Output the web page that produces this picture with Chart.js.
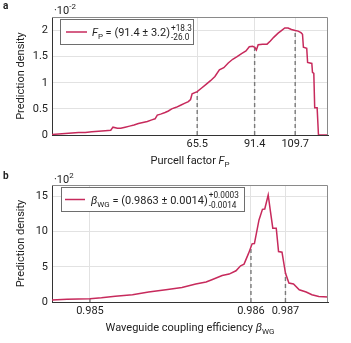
<!DOCTYPE html>
<html>
<head>
<meta charset="utf-8">
<script src="https://cdn.jsdelivr.net/npm/chart.js@4.4.0/dist/chart.umd.min.js"></script>
<style>
  html, body { margin: 0; padding: 0; background: #fff; }
  #wrap { position: relative; width: 351px; height: 343px; }
  canvas { position: absolute; left: 0; }
  #chartA { top: 0; }
  #chartB { top: 170px; }
</style>
</head>
<body>
<div id="wrap">
  <canvas id="chartA" width="351" height="170"></canvas>
  <canvas id="chartB" width="351" height="173"></canvas>
</div>
<script>
// panel a: Purcell factor (density in units of 1e-2)
const purcellX = [0, 3, 6, 9, 12, 15, 18, 21, 24, 26.5, 27.5, 29.5, 31, 33, 35, 37, 39, 41, 43, 45,
  46.5, 47.5, 49, 51, 52.5, 54, 56, 58, 60, 61.5, 62.5, 63.2, 65.5, 67.5, 69.5, 71.5, 73.5, 75.5, 77.5, 79.5,
  81.5, 83.5, 85.5, 87.5, 89, 90.5, 91.5, 92.2, 93, 95, 97, 98.5, 100, 102, 103.5, 105, 106.5, 108, 109.7, 111,
  112.3, 113, 113.4, 114.9, 115.3, 117.2, 117.5, 118.1, 118.5, 119.6, 120.2, 122, 124.5];
const purcellDensity = [0.01, 0.02, 0.03, 0.04, 0.05, 0.05, 0.06, 0.07, 0.08, 0.09, 0.15, 0.13, 0.13, 0.15, 0.17, 0.19, 0.22, 0.24, 0.26, 0.29,
  0.31, 0.38, 0.40, 0.43, 0.46, 0.50, 0.53, 0.57, 0.61, 0.64, 0.68, 0.79, 0.83, 0.90, 0.97, 1.04, 1.12, 1.25, 1.29, 1.38,
  1.45, 1.50, 1.56, 1.61, 1.69, 1.70, 1.68, 1.63, 1.73, 1.74, 1.74, 1.80, 1.87, 1.95, 2.00, 2.05, 2.05, 2.02, 2.00, 1.99,
  1.96, 1.93, 1.68, 1.66, 1.39, 1.37, 1.20, 1.18, 0.52, 0.52, 0, 0, 0];
const purcellTicks = [65.5, 91.4, 109.7];
const purcellTickLabels = ['65.5', '91.4', '109.7'];
const purcellQuantileDensity = [0.83, 1.67, 2.0];
const densityTicksA = [0, 0.5, 1, 1.5, 2];

// panel b: waveguide coupling efficiency (density in units of 1e2)
const betaX = [0.98457, 0.98470, 0.98490, 0.98500, 0.98512, 0.98527, 0.98541, 0.98556, 0.98570, 0.98582,
  0.98591, 0.98596, 0.98605, 0.98611, 0.98617, 0.98621, 0.98624, 0.98628, 0.98631, 0.98633,
  0.98637, 0.98640, 0.98642, 0.98645, 0.98647, 0.98649, 0.98652, 0.98654, 0.98657, 0.98660,
  0.98663, 0.98667, 0.98672, 0.98678, 0.98683, 0.98689, 0.98697];
const betaDensity = [0.3, 0.4, 0.47, 0.6, 0.8, 1.03, 1.41, 1.74, 2.07, 2.55,
  2.83, 3.15, 3.76, 3.96, 4.43, 5.13, 5.37, 6.93, 8.25, 8.29,
  11.64, 13.15, 13.2, 15.18, 12.8, 10.47, 10.47, 7.16, 7.07, 4.1,
  2.69, 2.55, 1.74, 1.41, 1.03, 0.79, 0.71];
const betaTicks = [0.9849, 0.9863, 0.9866];
const betaTickLabels = ['0.985', '0.986', '0.987'];
const betaQuantileDensity = [0.47, 7.9, 4.1];
const densityTicksB = [0, 5, 10, 15];

const curveColor = '#c72a5c';
const textColor = '#222';
const FONT = 'Roboto';

Chart.defaults.font.family = FONT;
Chart.defaults.font.size = 11;
Chart.defaults.color = textColor;

function drawRuns(ctx, x, y, runs, size, draw = true) {
  ctx.textAlign = 'left';
  ctx.textBaseline = 'alphabetic';
  let cx = x;
  runs.forEach(r => {
    if (r.stack) {
      ctx.font = `${size * 0.75}px ${FONT}`;
      if (draw) {
        ctx.fillText(r.stack[0], cx + 1, y - size * 0.5);
        ctx.fillText(r.stack[1], cx + 1, y + size * 0.38);
      }
      cx += 1 + Math.max(ctx.measureText(r.stack[0]).width, ctx.measureText(r.stack[1]).width);
      return;
    }
    const fs = (r.sub || r.sup) ? size * 0.72 : size;
    ctx.font = `${r.it ? 'italic ' : ''}${fs}px ${FONT}`;
    const dy = r.sub ? size * 0.3 : r.sup ? -size * 0.42 : 0;
    if (draw) ctx.fillText(r.t, cx, y + dy);
    cx += ctx.measureText(r.t).width;
  });
  return cx - x;
}

const decorations = {
  id: 'decorations',
  afterDraw(chart, args, o) {
    const { ctx, chartArea: a } = chart;
    ctx.save();
    // light frame on top and right
    ctx.strokeStyle = '#8a8a8a';
    ctx.lineWidth = 1;
    ctx.beginPath();
    ctx.moveTo(a.left, a.top + 0.5);
    ctx.lineTo(a.right - 0.5, a.top + 0.5);
    ctx.lineTo(a.right - 0.5, a.bottom);
    ctx.stroke();

    // legend
    const L = o.legend;
    ctx.fillStyle = '#fff';
    ctx.fillRect(L.x, L.y, L.w, L.h);
    ctx.strokeStyle = '#6e6e6e';
    ctx.strokeRect(L.x + 0.5, L.y + 0.5, L.w - 1, L.h - 1);
    ctx.strokeStyle = curveColor;
    ctx.lineWidth = 1.5;
    ctx.beginPath();
    ctx.moveTo(L.lineFrom, L.y + L.h / 2);
    ctx.lineTo(L.lineTo, L.y + L.h / 2);
    ctx.stroke();
    ctx.fillStyle = textColor;
    drawRuns(ctx, L.textX, L.y + L.h / 2 + 4, o.legendRuns, 11);

    // panel letter
    ctx.font = `bold 10px ${FONT}`;
    ctx.textAlign = 'left';
    ctx.textBaseline = 'alphabetic';
    ctx.fillText(o.letter, 3, o.letterY);

    // exponent
    drawRuns(ctx, 54, o.expY, o.expRuns, 11);

    // x title
    const w = drawRuns(ctx, 0, 0, o.titleRuns, 11, false);
    drawRuns(ctx, (a.left + a.right) / 2 - w / 2, o.titleY, o.titleRuns, 11);
    ctx.restore();
  }
};

function quantileSets(xs, hs) {
  return xs.map((q, i) => ({
    data: [{ x: q, y: 0 }, { x: q, y: hs[i] }],
    borderColor: '#7a7a7a',
    borderWidth: 1.4,
    borderDash: [4, 3],
    pointRadius: 0,
    order: 2
  }));
}

function makeChart(id, p) {
  const points = p.xs.map((x, i) => ({ x, y: p.ys[i] }));
  return new Chart(document.getElementById(id), {
    type: 'line',
    data: {
      datasets: [{
        data: points,
        borderColor: curveColor,
        borderWidth: 1.5,
        pointRadius: 0,
        tension: 0,
        order: 1
      }, ...quantileSets(p.qTicks, p.qHeights)]
    },
    options: {
      responsive: false,
      animation: false,
      events: [],
      layout: { padding: { left: 0, right: 23, top: p.top, bottom: 0 } },
      plugins: {
        legend: { display: false },
        tooltip: { enabled: false },
        decorations: p.deco
      },
      scales: {
        x: {
          type: 'linear',
          min: p.xMin,
          max: p.xMax,
          afterFit: s => { s.height = p.xHeight; },
          afterBuildTicks: s => { s.ticks = p.qTicks.map(v => ({ value: v })); },
          ticks: {
            autoSkip: false,
            maxRotation: 0,
            padding: 3,
            callback: (v, i) => p.qLabels[i]
          },
          grid: { color: '#e2e2e2', drawTicks: false },
          border: { color: '#333', width: 1 }
        },
        y: {
          min: 0,
          max: p.yMax,
          afterFit: s => { s.width = 52; },
          afterBuildTicks: s => { s.ticks = p.yTicks.map(v => ({ value: v })); },
          ticks: { padding: 4, callback: v => String(v) },
          grid: { color: '#e2e2e2', drawTicks: false },
          border: { color: '#333', width: 1 },
          title: {
            display: true,
            text: 'Prediction density',
            padding: { top: 15, bottom: 0 },
            font: { size: 11 }
          }
        }
      }
    },
    plugins: [decorations]
  });
}

makeChart('chartA', {
  xs: purcellX, ys: purcellDensity,
  qTicks: purcellTicks, qLabels: purcellTickLabels, qHeights: purcellQuantileDensity,
  yTicks: densityTicksA, xMin: 0, xMax: 124.5, yMax: 2.26,
  top: 17, xHeight: 35,
  deco: {
    legend: { x: 60, y: 19, w: 134, h: 26, lineFrom: 66, lineTo: 87, textX: 92 },
    legendRuns: [{ t: 'F', it: true }, { t: 'P', sub: true }, { t: ' = (91.4 ± 3.2)' }, { stack: ['+18.3', '-26.0'] }],
    letter: 'a', letterY: 9,
    expY: 14, expRuns: [{ t: '·10' }, { t: '-2', sup: true }],
    titleY: 164, titleRuns: [{ t: 'Purcell factor ' }, { t: 'F', it: true }, { t: 'P', sub: true }]
  }
});

makeChart('chartB', {
  xs: betaX, ys: betaDensity,
  qTicks: betaTicks, qLabels: betaTickLabels, qHeights: betaQuantileDensity,
  yTicks: densityTicksB, xMin: 0.98457, xMax: 0.98697, yMax: 16.6,
  top: 15, xHeight: 41,
  deco: {
    legend: { x: 61, y: 17, w: 184, h: 25, lineFrom: 65, lineTo: 85, textX: 91 },
    legendRuns: [{ t: 'β', it: true }, { t: 'WG', sub: true }, { t: ' = (0.9863 ± 0.0014)' }, { stack: ['+0.0003', '-0.0014'] }],
    letter: 'b', letterY: 9,
    expY: 13, expRuns: [{ t: '·10' }, { t: '2', sup: true }],
    titleY: 161, titleRuns: [{ t: 'Waveguide coupling efficiency ' }, { t: 'β', it: true }, { t: 'WG', sub: true }]
  }
});
</script>
</body>
</html>
